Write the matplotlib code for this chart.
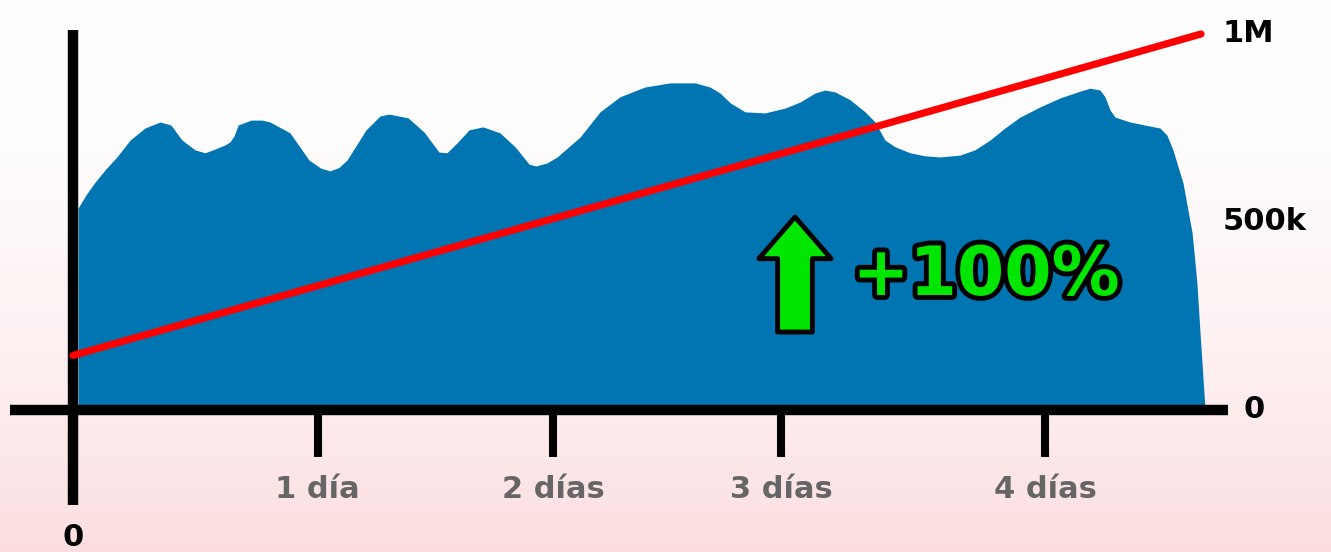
import numpy as np
import matplotlib.pyplot as plt
import matplotlib.patheffects as pe

# area series: x in days, value in thousands
area_days = [0.021, 0.054, 0.092, 0.138, 0.183, 0.238, 0.300, 0.363, 0.408, 0.454,
             0.508, 0.550, 0.592, 0.633, 0.654, 0.671, 0.688, 0.742, 0.788, 0.821,
             0.904, 0.983, 1.033, 1.071, 1.108, 1.142, 1.221, 1.279, 1.317, 1.396,
             1.463, 1.525, 1.558, 1.604, 1.650, 1.708, 1.779, 1.842, 1.900, 1.929,
             1.975, 2.017, 2.113, 2.196, 2.279, 2.383, 2.488, 2.592, 2.654, 2.696,
             2.738, 2.800, 2.883, 2.967, 3.029, 3.092, 3.133, 3.175, 3.238, 3.300,
             3.342, 3.383, 3.425, 3.488, 3.550, 3.613, 3.696, 3.758, 3.821, 3.883,
             3.946, 4.029, 4.113, 4.196, 4.238, 4.279, 4.300, 4.321, 4.342, 4.404,
             4.488, 4.529, 4.558, 4.583, 4.625, 4.663, 4.683, 4.696, 4.717]
area_vals = [537, 572, 606, 642, 673, 718, 750, 766, 758, 718,
             692, 684, 694, 705, 713, 729, 758, 771, 771, 766,
             737, 665, 643, 636, 645, 665, 745, 782, 787, 777,
             739, 686, 684, 713, 745, 753, 737, 700, 654, 649,
             657, 673, 726, 793, 833, 859, 870, 870, 859, 843,
             817, 793, 790, 803, 819, 843, 851, 846, 825, 793,
             766, 718, 700, 684, 676, 673, 678, 692, 718, 750,
             779, 806, 830, 848, 856, 851, 833, 798, 779, 766,
             755, 750, 731, 692, 604, 471, 338, 205, 0]

# red trend line
trend_days = [0.0, 4.70]
trend_vals = [145, 1000]

tick_days = [1.02, 2.0, 2.95, 4.05]
tick_labels = ["1 día", "2 días", "3 días", "4 días"]
y_ticks = [0, 500, 1000]
y_labels = ["0", "500k", "1M"]

BLUE = "#0075b1"
RED = "#ff0000"
GREEN = "#00e600"
FONT = "DejaVu Sans"

fig = plt.figure(figsize=(13.31, 5.52), dpi=100)

# background gradient
bg = fig.add_axes([0, 0, 1, 1])
grad = np.linspace(0, 1, 256).reshape(-1, 1)
top = np.array([1.0, 1.0, 1.0])
bot = np.array([252, 222, 224]) / 255
img = top + (bot - top) * grad[..., None] ** 1.8
bg.imshow(img.reshape(256, 1, 3), aspect="auto", extent=[0, 1, 0, 1])
bg.axis("off")

ax = fig.add_axes([0, 0, 1, 1])
ax.patch.set_alpha(0)
kpp = 500 / 188  # thousands per pixel
ax.set_xlim(-73 / 240, (1331 - 73) / 240)
ax.set_ylim(-(552 - 410) * kpp, 410 * kpp)
ax.axis("off")

ax.fill_between(area_days, 0, area_vals, color=BLUE, lw=0, zorder=2)

# axes lines
ax.plot([-0.2625, 4.8125], [0, 0], color="black", lw=7.5, solid_capstyle="butt", zorder=3)
ax.plot([0, 0], [380 * kpp, -95 * kpp], color="black", lw=7.5, solid_capstyle="butt", zorder=3)
for t in tick_days:
    ax.plot([t, t], [0, -47 * kpp], color="black", lw=5.8, solid_capstyle="butt", zorder=3)

ax.plot(trend_days, trend_vals, color=RED, lw=5.2, solid_capstyle="round", zorder=4)

for t, lab in zip(tick_days, tick_labels):
    ax.text(t, -80 * kpp, lab, ha="center", va="center", fontsize=22,
            fontweight="bold", color="#666666", family=FONT)

ax.text(0, -128 * kpp, "0", ha="center", va="center", fontsize=22,
        fontweight="bold", color="black", family=FONT)

for v, lab in zip(y_ticks, y_labels):
    xx = 4.79 if v > 0 else 4.875
    ax.text(xx, v, lab, ha="left", va="center", fontsize=22,
            fontweight="bold", color="black", family=FONT)

# green arrow
ax.annotate("", xy=(795 / 1331, 1 - 217 / 552), xytext=(795 / 1331, 1 - 332 / 552),
            xycoords="axes fraction", textcoords="axes fraction",
            arrowprops=dict(arrowstyle="simple,head_length=3.0,head_width=5.2,tail_width=2.5",
                            fc=GREEN, ec="black", lw=3.5, joinstyle="round",
                            shrinkA=0, shrinkB=0),
            zorder=5)

txt = ax.text(986 / 1331, 1 - 276 / 552, "+100%", transform=ax.transAxes,
              ha="center", va="center", fontsize=49, fontweight="bold",
              color=GREEN, family=FONT, zorder=6)
txt.set_path_effects([pe.Stroke(linewidth=7, foreground="black", joinstyle="round"),
                      pe.Normal()])

fig.savefig("out.png", dpi=100)
